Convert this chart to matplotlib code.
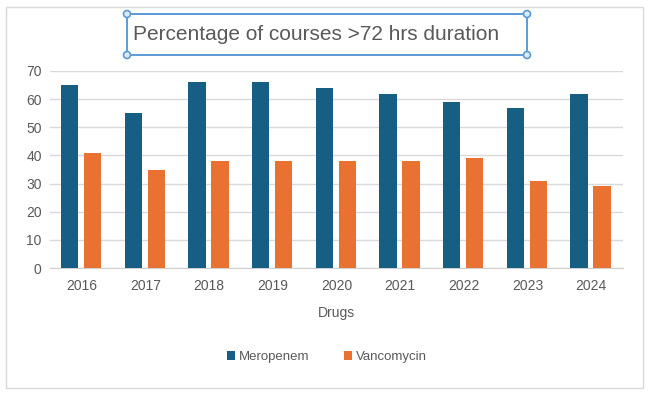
import numpy as np
import matplotlib.pyplot as plt
from matplotlib.patches import Rectangle, Circle

plt.rcParams['font.family'] = ['Liberation Sans', 'DejaVu Sans']

years = ['2016', '2017', '2018', '2019', '2020', '2021', '2022', '2023', '2024']
meropenem = [65, 55, 66, 66, 64, 62, 59, 57, 62]
vancomycin = [41, 35, 38, 38, 38, 38, 39, 31, 29]

blue = '#165E83'
orange = '#E97132'
grey_text = '#595959'

W, H = 650, 393
fig = plt.figure(figsize=(6.5, 3.93), dpi=100)

# outer chart border
fig.patches.append(Rectangle((6 / W, 1 - 388 / H), 637 / W, 381 / H,
                             transform=fig.transFigure, fill=False,
                             edgecolor='#D9D9D9', linewidth=1))

ax = fig.add_axes([50 / W, 1 - 268 / H, 573 / W, 197 / H])
x = np.arange(len(years))
ax.bar(x - 0.19, meropenem, width=0.27, color=blue, label='Meropenem', zorder=3)
ax.bar(x + 0.17, vancomycin, width=0.27, color=orange, label='Vancomycin', zorder=3)

ax.set_xlim(-0.5, len(years) - 0.5)
ax.set_ylim(0, 70)
ax.set_yticks(range(0, 71, 10))
ax.set_xticks(x)
ax.set_xticklabels(years)
ax.grid(axis='y', color='#D9D9D9', linewidth=1, zorder=0)
for s in ['top', 'right', 'left']:
    ax.spines[s].set_visible(False)
ax.spines['bottom'].set_color('#D0D0D0')
ax.tick_params(length=0, colors=grey_text, labelsize=10)
ax.tick_params(axis='x', pad=8)
ax.tick_params(axis='y', pad=6)
ax.set_xlabel('Drugs', color=grey_text, fontsize=10, labelpad=9)

leg = fig.legend(loc='center', bbox_to_anchor=(327 / W, 1 - 357 / H), ncol=2,
                 frameon=False, fontsize=9.5, handlelength=0.6, handleheight=0.6,
                 handletextpad=0.3, columnspacing=2.6)
for t in leg.get_texts():
    t.set_color(grey_text)

# title inside a selected text box
x0, x1, y0, y1 = 127, 527, 14, 55
box_col = '#5B9BD5'
fig.patches.append(Rectangle((x0 / W, 1 - y1 / H), (x1 - x0) / W, (y1 - y0) / H,
                             transform=fig.transFigure, fill=False,
                             edgecolor=box_col, linewidth=1.4))
for cx, cy in [(x0, y0), (x1, y0), (x0, y1), (x1, y1)]:
    fig.patches.append(Circle((cx, H - cy), 3.5, transform=None,
                              facecolor='#DCEAF7', edgecolor=box_col, linewidth=1.2))
fig.text(133 / W, 1 - 34.5 / H, 'Percentage of courses >72 hrs duration',
         ha='left', va='center', fontsize=15, color=grey_text)

fig.savefig('out.png', dpi=100)
